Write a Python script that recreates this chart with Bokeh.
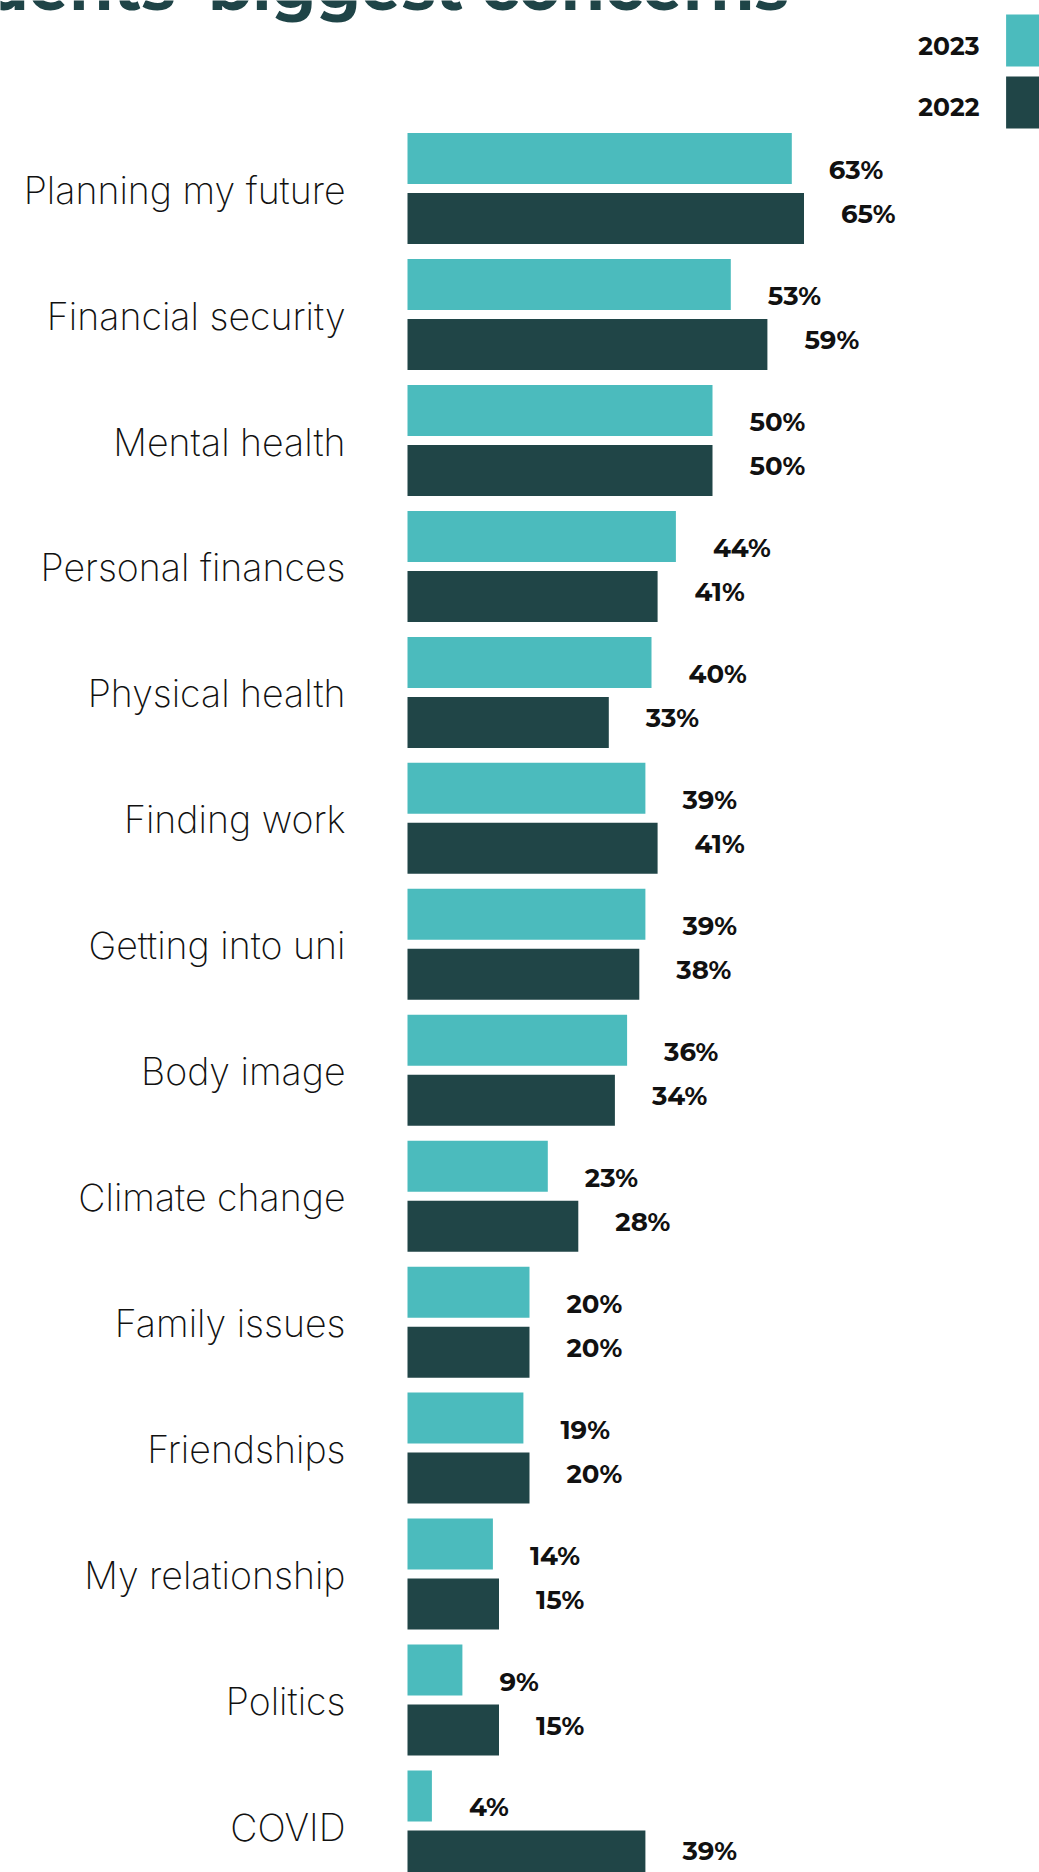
from bokeh.plotting import figure
from bokeh.models import Range1d, ColumnDataSource
from bokeh.core.properties import value
from bokeh.embed import file_html
from bokeh.resources import INLINE

# ---- data ----
categories = ["Planning my future", "Financial security", "Mental health",
              "Personal finances", "Physical health", "Finding work",
              "Getting into uni", "Body image", "Climate change",
              "Family issues", "Friendships", "My relationship",
              "Politics", "COVID"]
values_2023 = [63, 53, 50, 44, 40, 39, 39, 36, 23, 20, 19, 14, 9, 4]
values_2022 = [65, 59, 50, 41, 33, 41, 38, 34, 28, 20, 20, 15, 15, 39]
series_names = ["2023", "2022"]
title_text = "Students' biggest concerns"

# ---- layout constants (pixels) ----
W, H = 1039, 1872
X0 = 407.0          # pixel of 0%
PXPCT = 6.1         # pixels per percent
TOP0 = 132.6        # top of first bar
PITCH = 125.95      # group pitch
BAR_H = 51.0
BAR2_OFF = 60.0

C23 = "#4bbbbd"
C22 = "#204547"
LABEL_FONT = value("Montserrat")
CAT_FONT = value("Inter ExtraLight")

def ux(px):
    return (px - X0) / PXPCT

def uy(px):
    return (px - TOP0) / PITCH

p = figure(width=W, height=H, output_backend="svg", toolbar_location=None,
           x_range=Range1d(ux(0), ux(W)), y_range=Range1d(uy(H), uy(0)),
           min_border=0, outline_line_color=None)
p.axis.visible = False
p.grid.visible = False
p.background_fill_color = "white"
p.border_fill_color = "white"

n = len(categories)
idx = list(range(n))
src = ColumnDataSource(dict(
    cat=categories,
    v23=values_2023,
    v22=values_2022,
    y23=[i + (BAR_H / 2) / PITCH for i in idx],
    y22=[i + (BAR2_OFF + BAR_H / 2) / PITCH for i in idx],
    ly23=[i + 37.0 / PITCH for i in idx],
    ly22=[i + 81.0 / PITCH for i in idx],
    lx23=[v + 37.0 / PXPCT for v in values_2023],
    lx22=[v + 37.0 / PXPCT for v in values_2022],
    t23=[f"{v}%" for v in values_2023],
    t22=[f"{v}%" for v in values_2022],
    cy=[i + 57.0 / PITCH for i in idx],
    cx=[ux(345)] * n,
))

p.hbar(y="y23", left=0, right="v23", height=BAR_H / PITCH, source=src,
       fill_color=C23, line_color=None)
p.hbar(y="y22", left=0, right="v22", height=BAR_H / PITCH, source=src,
       fill_color=C22, line_color=None)

p.text(x="lx23", y="ly23", text="t23", source=src, text_font=LABEL_FONT,
       text_font_style="bold", text_font_size="26px", text_color="#111111",
       text_align="left", text_baseline="middle")
p.text(x="lx22", y="ly22", text="t22", source=src, text_font=LABEL_FONT,
       text_font_style="bold", text_font_size="26px", text_color="#111111",
       text_align="left", text_baseline="middle")

p.text(x="cx", y="cy", text="cat", source=src, text_font=CAT_FONT,
       text_font_size="37.5px", text_color="#111111",
       text_align="right", text_baseline="middle")

# title (cut off at the top, as in the reference)
p.text(x=[ux(788)], y=[uy(25)], text=[title_text], text_font=LABEL_FONT,
       text_font_style="bold", text_font_size="64px", text_color="#1f4447",
       text_align="right", text_baseline="bottom")

# legend
leg_y = [uy(45), uy(106)]
p.text(x=[ux(979)] * 2, y=leg_y, text=series_names, text_font=LABEL_FONT,
       text_font_style="bold", text_font_size="25px", text_color="#111111",
       text_align="right", text_baseline="middle")
p.quad(left=[ux(1005.6)] * 2, right=[ux(W + 20)] * 2,
       top=[uy(14), uy(76)], bottom=[uy(66), uy(128)],
       fill_color=[C23, C22], line_color=None)

open("out.html", "w").write(file_html(p, INLINE))
